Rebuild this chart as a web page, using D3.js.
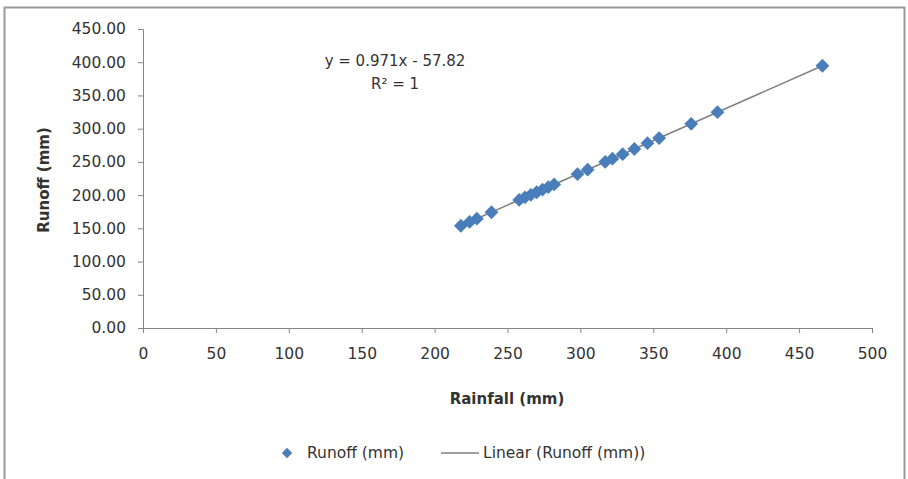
<!DOCTYPE html>
<html>
<head>
<meta charset="utf-8">
<script src="https://cdn.jsdelivr.net/npm/d3@7"></script>
<style>
  body { margin: 0; background: #fff; }
  text { font-family: "DejaVu Sans", sans-serif; fill: #333; }
</style>
</head>
<body>
<script>
// data
const rainfall = [218, 224, 229, 239, 258, 262, 266, 270, 274, 278, 282, 298, 305, 317, 322, 329, 337, 346, 354, 376, 394, 466];
const runoff = [153.9, 159.7, 164.5, 174.2, 192.7, 196.6, 200.5, 204.3, 208.2, 212.1, 216.0, 231.5, 238.3, 250.0, 254.8, 261.6, 269.4, 278.1, 285.9, 307.3, 324.8, 394.7];
const xTicks = [0, 50, 100, 150, 200, 250, 300, 350, 400, 450, 500];
const yTicks = [0, 50, 100, 150, 200, 250, 300, 350, 400, 450];
const equation = ["y = 0.971x - 57.82", "R\u00b2 = 1"];

const w = 908;
const h = 479;
const blue = "#4a7ebb";
const axisGrey = "#868686";

const svg = d3.select("body").append("svg").attr("width", w).attr("height", h);

// chart border
svg.append("rect")
  .attr("x", 4.5).attr("y", 7.5)
  .attr("width", 900).attr("height", 500)
  .attr("fill", "none")
  .attr("stroke", "#999")
  .attr("stroke-width", 2);

const x = d3.scaleLinear().domain([0, 500]).range([143, 872]);
const y = d3.scaleLinear().domain([0, 450]).range([328, 29]);

// y axis
const yAxis = svg.append("g")
  .attr("transform", `translate(${x(0)},0)`)
  .call(d3.axisLeft(y).tickValues(yTicks).tickFormat(d3.format(".2f")).tickSize(5).tickPadding(12));
// x axis
const xAxis = svg.append("g")
  .attr("transform", `translate(0,${y(0)})`)
  .call(d3.axisBottom(x).tickValues(xTicks).tickSize(5).tickPadding(15));

[xAxis, yAxis].forEach(g => {
  g.select(".domain").attr("stroke", axisGrey).attr("stroke-width", 1);
  g.selectAll(".tick line").attr("stroke", axisGrey);
  g.selectAll(".tick text")
    .style("font-family", "DejaVu Sans, sans-serif")
    .style("font-size", "15.5px")
    .attr("fill", "#333");
});

// trendline from a least-squares fit
const mx = d3.mean(rainfall);
const my = d3.mean(runoff);
const slope = d3.sum(rainfall, (d, i) => (d - mx) * (runoff[i] - my)) / d3.sum(rainfall, d => (d - mx) ** 2);
const icpt = my - slope * mx;
const x0 = d3.min(rainfall);
const x1 = d3.max(rainfall);
svg.append("line")
  .attr("x1", x(x0)).attr("y1", y(slope * x0 + icpt))
  .attr("x2", x(x1)).attr("y2", y(slope * x1 + icpt))
  .attr("stroke", "#7f7f7f")
  .attr("stroke-width", 1.5);

// markers
const diamond = d3.symbol().type(d3.symbolSquare).size(95);
svg.append("g").selectAll("path")
  .data(rainfall)
  .join("path")
  .attr("d", diamond)
  .attr("transform", (d, i) => `translate(${x(d)},${y(runoff[i])}) rotate(45)`)
  .attr("fill", blue);

// equation label
svg.append("g").selectAll("text")
  .data(equation)
  .join("text")
  .attr("x", 395)
  .attr("y", (d, i) => 66 + i * 23)
  .attr("text-anchor", "middle")
  .style("font-size", "15px")
  .text(d => d);

// axis titles
svg.append("text")
  .attr("x", 507).attr("y", 404)
  .attr("text-anchor", "middle")
  .style("font-size", "15px")
  .style("font-weight", "bold")
  .text("Rainfall (mm)");

svg.append("text")
  .attr("transform", "translate(49,180) rotate(-90)")
  .attr("text-anchor", "middle")
  .style("font-size", "15px")
  .style("font-weight", "bold")
  .text("Runoff (mm)");

// legend
const legend = svg.append("g");
legend.append("path")
  .attr("d", d3.symbol().type(d3.symbolSquare).size(55))
  .attr("transform", "translate(287,453) rotate(45)")
  .attr("fill", blue);
legend.append("text")
  .attr("x", 307).attr("y", 458)
  .style("font-size", "15.5px")
  .text("Runoff (mm)");
legend.append("line")
  .attr("x1", 441).attr("x2", 479)
  .attr("y1", 453).attr("y2", 453)
  .attr("stroke", "#7f7f7f")
  .attr("stroke-width", 1.5);
legend.append("text")
  .attr("x", 483).attr("y", 458)
  .style("font-size", "15.5px")
  .text("Linear (Runoff (mm))");
</script>
</body>
</html>
